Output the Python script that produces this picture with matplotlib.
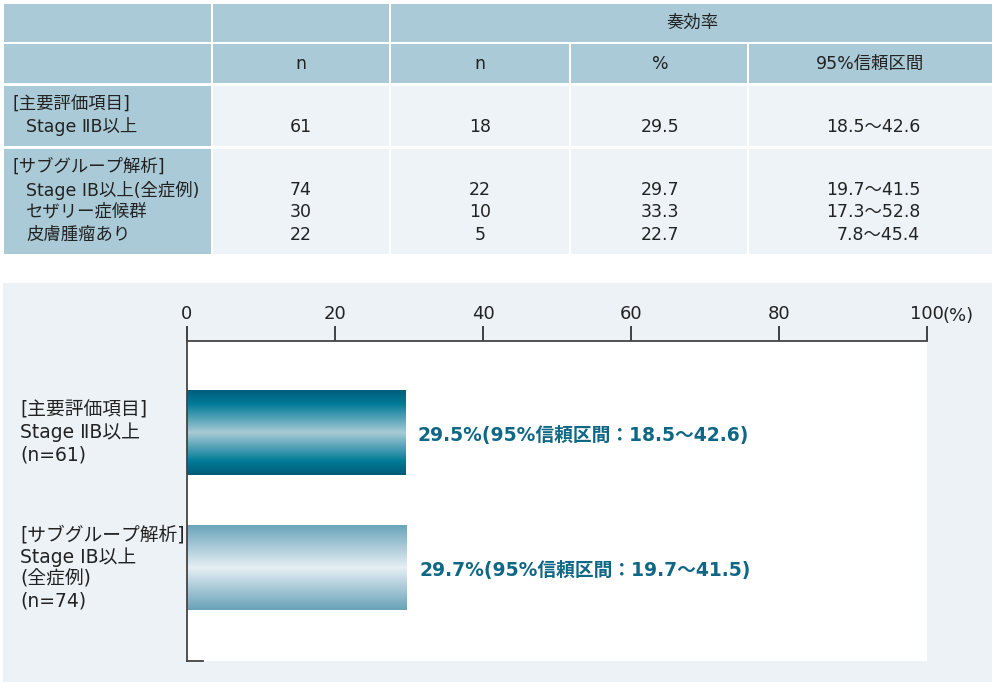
import matplotlib.pyplot as plt
import numpy as np
from matplotlib.patches import Rectangle
from matplotlib.colors import LinearSegmentedColormap
from matplotlib.transforms import blended_transform_factory

plt.rcParams['font.family'] = ['DejaVu Sans', 'Noto Sans CJK JP']

# table data
group_titles = ["[主要評価項目]", "[サブグループ解析]"]
subgroups = ["Stage ⅡB以上", "Stage IB以上(全症例)", "セザリー症候群", "皮膚腫瘤あり"]
n_total = [61, 74, 30, 22]
n_resp = [18, 22, 10, 5]
rate = [29.5, 29.7, 33.3, 22.7]
ci_lo = [18.5, 19.7, 17.3, 7.8]
ci_hi = [42.6, 41.5, 52.8, 45.4]

# chart data
bar_labels = ["[主要評価項目]\nStage ⅡB以上\n(n=61)",
              "[サブグループ解析]\nStage IB以上\n(全症例)\n(n=74)"]
bar_values = [29.5, 29.7]
bar_ci_lo = [18.5, 19.7]
bar_ci_hi = [42.6, 41.5]
xticks = [0, 20, 40, 60, 80, 100]

HEAD = '#a9cad6'
CELL = '#edf3f7'
PANEL = '#edf2f6'
TXT = '#222222'
TEAL = '#0f6786'

W, H = 1000, 688
fig = plt.figure(figsize=(W / 100, H / 100), dpi=100)
fig.patch.set_facecolor('white')


def box(x0, y0, x1, y1, color):
    fig.patches.append(Rectangle((x0 / W, 1 - y1 / H), (x1 - x0) / W, (y1 - y0) / H,
                                 transform=fig.transFigure, facecolor=color,
                                 edgecolor='none', zorder=-5))


def txt(x, y, s, ha='center', size=12.5, **kw):
    fig.text(x / W, 1 - y / H, s, ha=ha, va='center', fontsize=size, color=TXT, **kw)


# ---- table ----
cols = [(4, 211), (213, 389), (391, 569), (571, 747), (749, 992)]
rows = [(4, 42), (44, 83), (86, 146), (149, 254)]

box(4, 4, 211, 42, HEAD)
box(213, 4, 389, 42, HEAD)
box(391, 4, 992, 42, HEAD)
for c in cols:
    box(c[0], 44, c[1], 83, HEAD)
for r in rows[2:]:
    box(cols[0][0], r[0], cols[0][1], r[1], HEAD)
    for c in cols[1:]:
        box(c[0], r[0], c[1], r[1], CELL)

txt(692, 23, "奏効率")
for x, s in zip([301, 480, 660, 870], ["n", "n", "%", "95%信頼区間"]):
    txt(x, 64, s)

line_y = [127, 190, 212, 235]
txt(12, 104, group_titles[0], ha='left')
txt(12, 167, group_titles[1], ha='left')
for i, y in enumerate(line_y):
    txt(26, y, subgroups[i], ha='left')
    txt(301, y, str(n_total[i]))
    txt(480, y, str(n_resp[i]))
    txt(660, y, f"{rate[i]:.1f}")
    txt(920, y, f"{ci_lo[i]:.1f}～{ci_hi[i]:.1f}", ha='right')

# ---- chart panel ----
box(3, 283, 992, 682, PANEL)

ax = fig.add_axes([187 / W, 1 - 661 / H, 740 / W, 320 / H])
ax.set_zorder(2)
ax.set_facecolor('white')

ypos = np.arange(len(bar_values))
bars = ax.barh(ypos, bar_values, height=0.627, color='none', edgecolor='none', zorder=2)

grads = [
    LinearSegmentedColormap.from_list('g1', [(0, '#005d7c'), (0.16, '#007b98'), (0.5, '#a8cad6'),
                                             (0.84, '#007b98'), (1, '#005a78')]),
    LinearSegmentedColormap.from_list('g2', [(0, '#6aa4ba'), (0.5, '#e6eff4'), (1, '#68a2b8')]),
]
g = np.linspace(0, 1, 256).reshape(-1, 1)
for bar, cmap in zip(bars, grads):
    x0, y0 = bar.get_x(), bar.get_y()
    im = ax.imshow(g, cmap=cmap, aspect='auto', interpolation='bilinear',
                   extent=[x0, x0 + bar.get_width(), y0 + bar.get_height(), y0], zorder=2)
    im.set_clip_path(bar)

ax.set_xlim(0, 100)
ax.set_ylim(1.687, -0.675)
ax.set_aspect('auto')

ax.xaxis.tick_top()
ax.set_xticks(xticks)
ax.set_xticklabels([str(t) for t in xticks])
ax.tick_params(axis='x', direction='out', length=11, width=1.3, color='#333333',
               labelsize=13, labelcolor=TXT, pad=2)
ax.set_yticks([])
ax.spines['right'].set_visible(False)
for s in ['top', 'left', 'bottom']:
    ax.spines[s].set_color('#444444')
    ax.spines[s].set_linewidth(1.3)
ax.spines['bottom'].set_bounds(0, 2.2)

ax.annotate("(%)", xy=(100, 1), xycoords=('data', 'axes fraction'),
            xytext=(11.5, 18), textcoords='offset points', ha='left', va='center',
            fontsize=13, color=TXT, annotation_clip=False)

lab_tr = blended_transform_factory(fig.transFigure, ax.transData)
for y, lab in zip(ypos, bar_labels):
    ax.text(20 / W, y, lab, transform=lab_tr, ha='left', va='center',
            fontsize=13.5, color=TXT, linespacing=1.2)

for y, v, lo, hi in zip(ypos, bar_values, bar_ci_lo, bar_ci_hi):
    ax.text(v + 1.7, y + 0.02, f"{v:.1f}%(95%信頼区間：{lo:.1f}～{hi:.1f})",
            ha='left', va='center', fontsize=13.5, color=TEAL, fontweight='bold')

fig.savefig('out.png', dpi=100, facecolor='white')
